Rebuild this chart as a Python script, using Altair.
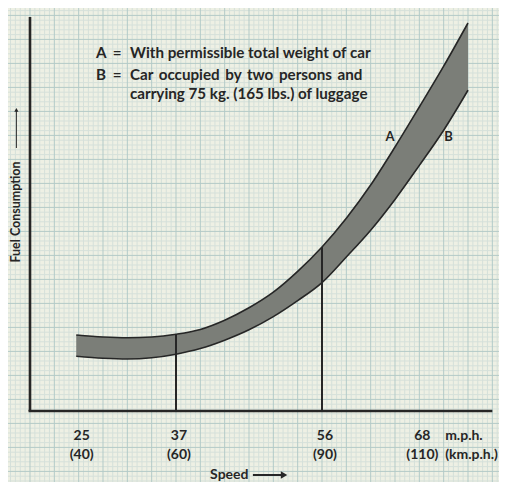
import altair as alt
import pandas as pd
import numpy as np

# ---- data (speed in km/h, fuel consumption in arbitrary units) ----
speed_kmh = [39.5, 45, 50, 55, 60, 65, 70, 75, 80, 85, 90, 95, 100, 105, 110, 115, 120]
fuel_a = [19.0, 18.5, 18.3, 18.5, 19.2, 20.4, 22.7, 25.8, 29.7, 34.9, 41.0, 48.2, 56.5, 66.0, 76.0, 86.2, 97.0]
fuel_b = [13.7, 13.2, 13.0, 13.3, 14.2, 15.6, 17.7, 20.3, 23.6, 27.6, 32.1, 38.5, 45.2, 52.9, 61.4, 70.2, 80.2]

tick_kmh = [40, 60, 90, 110]
tick_mph_labels = ["25", "37", "56", "68"]
tick_kmh_labels = ["(40)", "(60)", "(90)", "(110)"]
marker_kmh = [60, 90]

GAP = " \u2009"
legend_keys = ["A", "B"]
legend_texts = ["With permissible total weight of car",
                GAP.join(["Car", "occupied", "by", "two", "persons", "and"]),
                "carrying 75 kg. (165 lbs.) of luggage"]

FONT = "Lato"
INK = "#262626"
X_DOM = [25.48, 126.37]
Y_DOM = [-17.75, 100.75]
W, H = 491, 474

xs = alt.Scale(domain=X_DOM, nice=False, zero=False)
ys = alt.Scale(domain=Y_DOM, nice=False, zero=False)

def X(f="x"):
    return alt.X(f"{f}:Q", scale=xs, axis=None)

def Y(f="y"):
    return alt.Y(f"{f}:Q", scale=ys, axis=None)

def txt(df, size=14, align="center", angle=0, dx=0):
    return alt.Chart(df).mark_text(font=FONT, fontSize=size, color=INK, align=align,
                                   angle=angle, dx=dx, baseline="middle",
                                   fontWeight="bold").encode(
        x=X(), y=Y(), text="t:N")

# ---- graph paper ----
gx = np.arange(26, 127, 1)
gy = np.round(np.arange(-17.5, 101, 1.2), 2)
grid_x = pd.DataFrame({"x": gx, "major": (gx % 5 == 0)})
grid_y = pd.DataFrame({"y": gy, "major": [(i % 5 == 2) for i in range(len(gy))]})

gx_minor = alt.Chart(grid_x[~grid_x.major]).mark_rule(color="#d5e0da", strokeWidth=1).encode(x=X())
gx_major = alt.Chart(grid_x[grid_x.major]).mark_rule(color="#b3cac8", strokeWidth=1).encode(x=X())
gy_minor = alt.Chart(grid_y[~grid_y.major]).mark_rule(color="#d5e0da", strokeWidth=1).encode(y=Y())
gy_major = alt.Chart(grid_y[grid_y.major]).mark_rule(color="#b3cac8", strokeWidth=1).encode(y=Y())

# ---- band ----
band_df = pd.DataFrame({"x": speed_kmh, "a": fuel_a, "b": fuel_b})
band = alt.Chart(band_df).mark_area(color="#7b7e78", interpolate="monotone").encode(
    x=X(), y=Y("a"), y2="b:Q")
line_a = alt.Chart(band_df).mark_line(color=INK, strokeWidth=1.6, interpolate="monotone").encode(
    x=X(), y=Y("a"))
line_b = alt.Chart(band_df).mark_line(color=INK, strokeWidth=1.6, interpolate="monotone").encode(
    x=X(), y=Y("b"))

# ---- vertical markers ----
marker_df = pd.DataFrame({"x": marker_kmh, "y0": [0.0, 0.0],
                          "top": [fuel_a[speed_kmh.index(m)] for m in marker_kmh]})
markers = alt.Chart(marker_df).mark_rule(color=INK, strokeWidth=2).encode(
    x=X(), y=Y("y0"), y2="top:Q")

# ---- axes ----
yaxis = alt.Chart(pd.DataFrame({"x": [30.0], "y0": [0.0], "y1": [98.5]})).mark_rule(
    color=INK, strokeWidth=2.6).encode(x=X(), y=Y("y0"), y2="y1:Q")
xaxis = alt.Chart(pd.DataFrame({"x0": [29.7], "x1": [125.0], "y": [0.0]})).mark_rule(
    color=INK, strokeWidth=2.6).encode(x=X("x0"), x2="x1:Q", y=Y())

mph_text = txt(pd.DataFrame({"x": tick_kmh, "y": [-6.25] * 4, "t": tick_mph_labels}), dx=3)
kmh_text = txt(pd.DataFrame({"x": tick_kmh, "y": [-11.0] * 4, "t": tick_kmh_labels}), dx=3)
units_text = txt(pd.DataFrame({"x": [115.3, 115.3], "y": [-6.25, -11.0],
                               "t": ["m.p.h.", "(km.p.h.)"]}), align="left")

speed_text = txt(pd.DataFrame({"x": [74.9], "y": [-16.0], "t": ["Speed"]}), align="right")
speed_shaft = alt.Chart(pd.DataFrame({"x0": [75.8], "x1": [82.0], "y": [-16.0]})).mark_rule(
    color=INK, strokeWidth=2).encode(x=X("x0"), x2="x1:Q", y=Y())
speed_head = alt.Chart(pd.DataFrame({"x": [82.2], "y": [-16.0]})).mark_point(
    shape="triangle-right", filled=True, color=INK, size=55, opacity=1).encode(x=X(), y=Y())

FX = 27.2
fuel_text = txt(pd.DataFrame({"x": [FX], "y": [49.75], "t": ["Fuel Consumption"]}),
                size=12.5, angle=270)
fuel_shaft = alt.Chart(pd.DataFrame({"x": [FX], "y0": [65.75], "y1": [75.0]})).mark_rule(
    color=INK, strokeWidth=1).encode(x=X(), y=Y("y0"), y2="y1:Q")
fuel_head = alt.Chart(pd.DataFrame({"x": [FX], "y": [75.3]})).mark_point(
    shape="triangle-up", filled=True, color=INK, size=18, opacity=1).encode(x=X(), y=Y())

# ---- legend ----
LS = 15.2
leg_keys = txt(pd.DataFrame({"x": [43.56, 43.56], "y": [89.5, 84.0], "t": legend_keys}),
               size=LS, align="left")
leg_eq = txt(pd.DataFrame({"x": [47.9, 47.9], "y": [89.5, 84.0], "t": ["=", "="]}), size=LS)
leg_txt = txt(pd.DataFrame({"x": [50.55] * 3, "y": [89.5, 84.0, 79.25], "t": legend_texts}),
              size=LS, align="left")

ab_text = txt(pd.DataFrame({"x": [104.0, 116.0], "y": [68.5, 68.5], "t": ["A", "B"]}), size=13)

chart = alt.layer(
    gx_minor, gy_minor, gx_major, gy_major,
    band, line_a, line_b, markers, yaxis, xaxis,
    mph_text, kmh_text, units_text, speed_text, speed_shaft, speed_head,
    fuel_text, fuel_shaft, fuel_head, leg_keys, leg_eq, leg_txt, ab_text,
).properties(
    width=W, height=H, padding=0, autosize=alt.AutoSizeParams(type="none"),
    background="#eef0e4",
).configure_view(stroke=None)

chart.save("out.html", embed_options={"renderer": "svg", "actions": False})
